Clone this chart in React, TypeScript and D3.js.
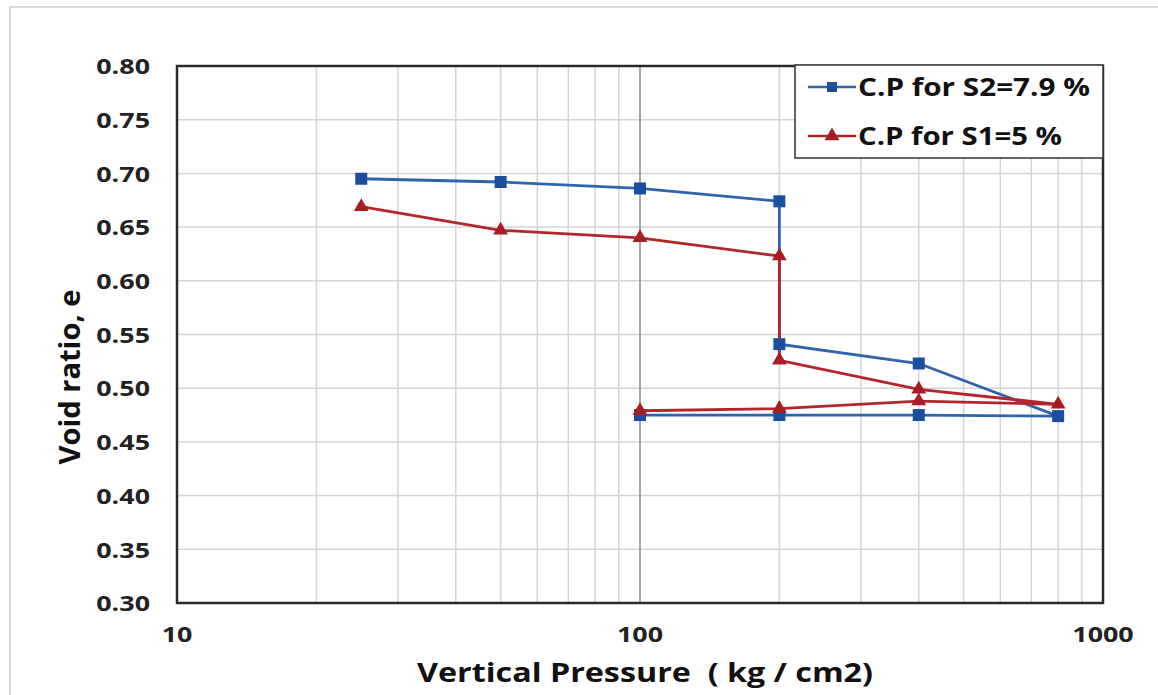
import React from "react";
import * as d3 from "d3";

const pressureS2 = [25, 50, 100, 200, 200, 400, 800, 400, 200, 100];
const voidS2 = [0.695, 0.692, 0.686, 0.674, 0.541, 0.523, 0.474, 0.475, 0.475, 0.475];
const pressureS1 = [25, 50, 100, 200, 200, 400, 800, 400, 200, 100];
const voidS1 = [0.669, 0.647, 0.64, 0.623, 0.526, 0.499, 0.485, 0.488, 0.481, 0.479];
const yTicks = [0.3, 0.35, 0.4, 0.45, 0.5, 0.55, 0.6, 0.65, 0.7, 0.75, 0.8];
const xTickLabels = [10, 100, 1000];
const seriesNames = ["C.P for S2=7.9 %", "C.P for S1=5 %"];
const legendTextWidths = [232, 204];

const W = 1158;
const H = 695;
const M = { left: 177, right: 1103, top: 66, bottom: 603 };
const FONT = "'Open Sans', Lato, sans-serif";
const BLUE = "#2f64ad";
const BLUE_M = "#1b4f9e";
const RED = "#b3252b";
const RED_M = "#a81c22";
const TICK_SX = 1.28;

export default function App() {
  const x = d3.scaleLog().domain([10, 1000]).range([M.left, M.right]);
  const y = d3.scaleLinear().domain([0.3, 0.8]).range([M.bottom, M.top]);
  const line = d3
    .line<[number, number]>()
    .x((d) => x(d[0]))
    .y((d) => y(d[1]));

  const s2: [number, number][] = pressureS2.map((p, i) => [p, voidS2[i]]);
  const s1: [number, number][] = pressureS1.map((p, i) => [p, voidS1[i]]);

  const minorX: number[] = [];
  for (let dec = 10; dec < 1000; dec *= 10) {
    for (let k = 2; k <= 9; k++) minorX.push(dec * k);
  }

  const tri = d3.symbol().type(d3.symbolTriangle).size(95)() as string;
  const legendX = 795;
  const legendY = 65;

  return (
    <svg
      width={W}
      height={H}
      style={{ position: "absolute", left: 0, top: 0, background: "#fff" }}
      fontFamily={FONT}
    >
      <rect x={10} y={7} width={1160} height={700} fill="#fff" stroke="#d9d9d9" strokeWidth={2} />
      {yTicks.map((t) => (
        <line key={"h" + t} x1={M.left} x2={M.right} y1={y(t)} y2={y(t)} stroke="#d4d4d4" strokeWidth={1.5} />
      ))}
      {minorX.map((v) => (
        <line key={"v" + v} x1={x(v)} x2={x(v)} y1={M.top} y2={M.bottom} stroke="#d4d4d4" strokeWidth={1.5} />
      ))}
      <line x1={x(100)} x2={x(100)} y1={M.top} y2={M.bottom} stroke="#8a8a8a" strokeWidth={1.5} />
      <rect
        x={M.left}
        y={M.top}
        width={M.right - M.left}
        height={M.bottom - M.top}
        fill="none"
        stroke="#2a2a2a"
        strokeWidth={2.5}
      />
      {yTicks.map((t) => (
        <g key={"yt" + t} transform={`translate(150,${y(t)}) scale(${TICK_SX},1)`}>
          <text textAnchor="end" dominantBaseline="central" fontSize={21} fontWeight="bold" fill="#222">
            {t.toFixed(2)}
          </text>
        </g>
      ))}
      {xTickLabels.map((t) => (
        <g key={"xt" + t} transform={`translate(${x(t)},634) scale(${TICK_SX},1)`}>
          <text textAnchor="middle" dominantBaseline="central" fontSize={21} fontWeight="bold" fill="#222">
            {t}
          </text>
        </g>
      ))}
      <text
        x={645}
        y={682}
        textAnchor="middle"
        fontSize={27}
        fontWeight="bold"
        fill="#111"
        textLength={456}
        lengthAdjust="spacingAndGlyphs"
        style={{ whiteSpace: "pre" }}
      >
        {"Vertical Pressure  ( kg / cm2)"}
      </text>
      <text
        transform={`translate(80,377) rotate(-90)`}
        textAnchor="middle"
        fontSize={28}
        fontWeight="bold"
        fill="#111"
        textLength={175}
        lengthAdjust="spacingAndGlyphs"
      >
        Void ratio, e
      </text>
      <path d={line(s2) || ""} fill="none" stroke={BLUE} strokeWidth={2.8} />
      <path d={line(s1) || ""} fill="none" stroke={RED} strokeWidth={2.8} />
      {s2.map((d, i) => (
        <rect key={"s2" + i} x={x(d[0]) - 6} y={y(d[1]) - 6} width={12} height={12} fill={BLUE_M} />
      ))}
      {s1.map((d, i) => (
        <path key={"s1" + i} d={tri} transform={`translate(${x(d[0])},${y(d[1])})`} fill={RED_M} />
      ))}
      <rect x={legendX} y={legendY} width={308} height={93} fill="#fff" stroke="#333" strokeWidth={1.5} />
      {seriesNames.map((name, i) => {
        const ly = legendY + 22 + i * 49;
        return (
          <g key={name}>
            <line x1={808} x2={856} y1={ly} y2={ly} stroke={i === 0 ? BLUE : RED} strokeWidth={2.5} />
            {i === 0 ? (
              <rect x={827} y={ly - 5} width={10} height={10} fill={BLUE_M} />
            ) : (
              <path d={tri} transform={`translate(832,${ly})`} fill={RED_M} />
            )}
            <text
              x={858}
              y={ly + 9}
              fontSize={25}
              fontWeight="bold"
              fill="#111"
              textLength={legendTextWidths[i]}
              lengthAdjust="spacingAndGlyphs"
            >
              {name}
            </text>
          </g>
        );
      })}
    </svg>
  );
}
